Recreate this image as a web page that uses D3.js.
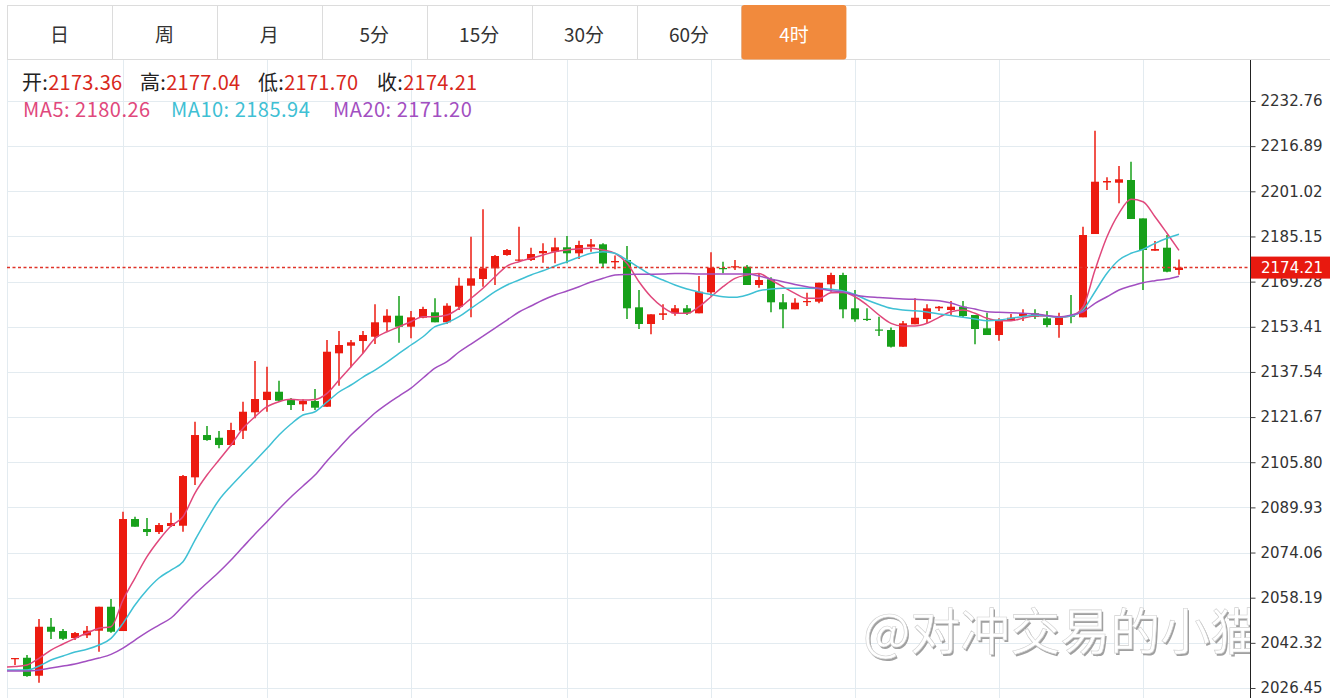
<!DOCTYPE html>
<html>
<head>
<meta charset="utf-8">
<script src="https://cdn.jsdelivr.net/npm/d3@7/dist/d3.min.js"></script>
<style>
body { margin: 0; background: #fff; }
</style>
</head>
<body>
<div id="display"></div>
<script>
// period tabs
const tabs = ['日', '周', '月', '5分', '15分', '30分', '60分', '4时'];
const activeTab = '4时';

// 4h bars (bar 1 .. bar 98)
const opens = [2036.6, 2037.08, 2030.76, 2047.98, 2046.47, 2044.01, 2044.96, 2046.58, 2055.01, 2046.47,
  2085.84, 2082.32, 2081.27, 2083.38, 2083.48, 2100.49, 2115.36, 2114.41, 2111.85, 2116.88,
  2123.34, 2127.66, 2130.58, 2127.66, 2126.15, 2127.31, 2125.31, 2144.08, 2146.75, 2148.40,
  2149.91, 2154.98, 2157.30, 2153.43, 2156.59, 2158.49, 2154.98, 2160.46, 2167.84, 2170.19,
  2173.96, 2178.63, 2176.70, 2176.87, 2179.23, 2179.79, 2181.34, 2179.23, 2181.55, 2182.39,
  2176.06, 2176.87, 2160.25, 2154.38, 2157.60, 2158.14, 2159.90, 2158.14, 2165.52, 2174.06,
  2174.34, 2174.52, 2168.09, 2170.09, 2162.01, 2159.54, 2162.11, 2162.22, 2168.33, 2171.60,
  2159.90, 2156.20, 2152.45, 2152.27, 2146.40, 2154.27, 2156.13, 2159.90, 2159.30, 2160.46,
  2157.54, 2152.87, 2150.51, 2155.43, 2157.19, 2158.14, 2156.38, 2154.03, 2157.36, 2156.73,
  2186.01, 2204.12, 2204.04, 2204.99, 2191.50, 2180.14, 2181.20, 2173.36];
const highs = [2036.98, 2038.03, 2050.69, 2051.04, 2047.17, 2046.12, 2048.23, 2055.01, 2057.72, 2088.40,
  2086.65, 2086.19, 2084.43, 2088.05, 2101.30, 2120.04, 2118.53, 2116.77, 2119.69, 2127.07,
  2141.37, 2139.37, 2134.45, 2128.37, 2127.91, 2131.53, 2148.75, 2151.92, 2148.75, 2151.92,
  2161.30, 2159.54, 2164.22, 2158.95, 2160.46, 2163.41, 2161.65, 2170.65, 2185.06, 2194.69,
  2178.63, 2180.74, 2188.58, 2181.20, 2182.74, 2184.71, 2185.31, 2183.66, 2184.25, 2182.74,
  2178.45, 2181.79, 2166.33, 2157.79, 2161.30, 2161.06, 2161.06, 2171.25, 2179.58, 2176.28,
  2176.87, 2175.12, 2172.20, 2170.79, 2164.92, 2163.41, 2165.38, 2168.89, 2172.41, 2172.41,
  2166.33, 2159.90, 2156.94, 2153.15, 2155.43, 2163.41, 2161.30, 2160.71, 2162.46, 2162.46,
  2157.54, 2158.35, 2156.38, 2157.89, 2159.54, 2159.54, 2158.95, 2158.35, 2164.57, 2188.58,
  2222.32, 2205.94, 2209.91, 2211.42, 2191.50, 2183.55, 2185.66, 2177.04];
const lows = [2034.52, 2030.41, 2028.30, 2043.66, 2043.31, 2043.31, 2044.01, 2039.19, 2045.87, 2046.47,
  2083.13, 2079.86, 2080.56, 2083.03, 2081.37, 2097.79, 2113.36, 2110.69, 2111.50, 2113.96,
  2121.23, 2123.55, 2127.07, 2124.15, 2123.79, 2124.15, 2125.31, 2132.69, 2139.16, 2144.08,
  2147.35, 2151.92, 2147.80, 2149.35, 2156.38, 2154.98, 2154.38, 2159.30, 2156.73, 2167.49,
  2168.09, 2178.39, 2176.52, 2176.52, 2175.92, 2175.71, 2175.71, 2177.22, 2179.79, 2174.06,
  2173.60, 2156.13, 2152.62, 2150.76, 2155.78, 2157.30, 2157.54, 2158.14, 2164.33, 2172.20,
  2173.36, 2168.09, 2167.14, 2158.49, 2152.87, 2159.54, 2160.71, 2161.65, 2165.73, 2156.38,
  2155.19, 2155.43, 2150.16, 2146.12, 2146.40, 2154.27, 2154.62, 2158.95, 2157.54, 2156.73,
  2147.24, 2150.51, 2148.51, 2155.43, 2155.43, 2156.13, 2153.22, 2149.56, 2154.62, 2156.73,
  2186.01, 2201.48, 2196.80, 2191.28, 2166.33, 2180.14, 2172.55, 2171.70];
const closes = [2036.98, 2030.65, 2047.98, 2046.22, 2043.76, 2045.77, 2046.58, 2055.01, 2046.22, 2085.84,
  2083.13, 2081.27, 2083.73, 2084.43, 2100.95, 2115.36, 2113.60, 2111.85, 2117.12, 2123.55,
  2128.02, 2130.58, 2127.41, 2125.91, 2127.31, 2124.96, 2144.64, 2147.00, 2147.95, 2150.51,
  2154.98, 2157.30, 2153.43, 2156.73, 2159.65, 2154.98, 2160.81, 2167.84, 2170.44, 2173.96,
  2178.28, 2180.39, 2177.05, 2178.98, 2180.04, 2181.34, 2179.23, 2182.15, 2182.39, 2175.64,
  2176.52, 2159.90, 2154.38, 2157.79, 2158.14, 2159.90, 2158.14, 2165.73, 2174.17, 2173.71,
  2174.69, 2168.09, 2169.84, 2162.01, 2159.54, 2161.87, 2162.46, 2168.89, 2171.60, 2159.54,
  2156.03, 2155.85, 2152.10, 2146.40, 2154.62, 2156.59, 2159.90, 2160.46, 2160.46, 2157.19,
  2152.62, 2150.51, 2155.43, 2156.59, 2158.14, 2156.94, 2154.03, 2156.94, 2157.01, 2185.66,
  2204.39, 2204.64, 2205.24, 2191.28, 2180.39, 2180.74, 2172.76, 2174.21];

// moving averages, bar 0 (just off the left edge) .. bar 98
const ma5 = [2033.82, 2033.99, 2034.52, 2036.88, 2039.79, 2041.90, 2043.90, 2045.77, 2047.42, 2047.98,
  2057.37, 2065.10, 2072.59, 2078.46, 2083.38, 2086.65, 2094.98, 2101.30, 2106.58, 2111.85,
  2117.72, 2121.79, 2125.31, 2127.07, 2127.91, 2127.66, 2127.84, 2130.02, 2134.69, 2139.37,
  2144.08, 2149.35, 2151.67, 2153.43, 2155.19, 2156.94, 2156.94, 2157.54, 2159.90, 2163.41,
  2166.93, 2171.00, 2174.76, 2176.28, 2177.47, 2178.63, 2179.79, 2180.39, 2180.84, 2180.99,
  2180.39, 2179.23, 2175.71, 2169.25, 2163.97, 2160.25, 2158.14, 2158.14, 2160.46, 2163.97,
  2167.49, 2170.44, 2171.60, 2172.13, 2169.84, 2167.49, 2165.17, 2163.41, 2163.41, 2165.38,
  2165.45, 2163.97, 2161.06, 2157.54, 2154.62, 2153.67, 2153.67, 2154.62, 2156.73, 2158.70,
  2159.30, 2158.14, 2156.38, 2155.54, 2155.54, 2156.38, 2157.19, 2157.19, 2156.73, 2157.19,
  2160.35, 2173.36, 2185.06, 2193.29, 2198.21, 2197.36, 2192.09, 2186.26, 2180.26];
const ma10 = [2032.76, 2032.76, 2032.76, 2034.17, 2036.28, 2037.68, 2039.09, 2040.04, 2041.55, 2043.90,
  2049.18, 2055.61, 2060.88, 2065.10, 2067.91, 2070.83, 2078.46, 2085.84, 2092.52, 2097.44,
  2101.90, 2106.22, 2110.69, 2115.36, 2119.23, 2122.39, 2123.55, 2126.96, 2130.48, 2132.94,
  2135.75, 2138.21, 2141.02, 2144.08, 2147.00, 2149.91, 2153.43, 2154.83, 2156.94, 2159.90,
  2162.81, 2165.73, 2168.09, 2169.84, 2171.60, 2173.11, 2174.76, 2176.28, 2177.82, 2179.23,
  2179.79, 2179.23, 2176.87, 2174.24, 2171.60, 2169.84, 2168.09, 2166.68, 2165.63, 2164.75,
  2163.97, 2163.76, 2164.57, 2166.08, 2166.68, 2166.93, 2166.93, 2166.93, 2166.86, 2166.58,
  2165.98, 2164.75, 2162.81, 2161.23, 2159.90, 2159.30, 2159.05, 2158.60, 2157.89, 2157.37,
  2156.73, 2156.14, 2155.54, 2155.78, 2156.38, 2157.01, 2157.54, 2157.19, 2156.84, 2157.19,
  2159.30, 2165.73, 2172.20, 2176.87, 2179.23, 2180.63, 2182.74, 2184.50, 2185.94];
const ma20 = [2032.41, 2032.41, 2032.41, 2032.76, 2033.47, 2034.17, 2034.87, 2035.93, 2036.98, 2038.28,
  2040.49, 2043.31, 2046.12, 2048.58, 2051.04, 2055.26, 2059.48, 2063.34, 2067.21, 2071.43,
  2076.00, 2080.56, 2084.89, 2089.35, 2093.57, 2097.44, 2101.30, 2106.22, 2110.79, 2115.36,
  2119.23, 2123.10, 2126.26, 2129.07, 2131.88, 2135.40, 2138.91, 2141.13, 2144.54, 2147.35,
  2150.16, 2152.97, 2155.78, 2158.60, 2160.71, 2162.81, 2164.57, 2165.98, 2167.49, 2169.14,
  2170.44, 2171.60, 2171.78, 2171.85, 2171.88, 2171.95, 2172.13, 2172.13, 2171.95, 2171.95,
  2171.95, 2171.95, 2171.95, 2171.25, 2170.19, 2169.25, 2168.26, 2167.49, 2166.86, 2166.08,
  2165.63, 2164.57, 2163.97, 2163.69, 2163.41, 2163.16, 2163.06, 2162.81, 2162.56, 2161.76,
  2160.46, 2159.65, 2158.70, 2158.49, 2158.35, 2158.14, 2157.89, 2157.37, 2156.94, 2157.54,
  2158.70, 2161.65, 2163.97, 2166.33, 2167.73, 2168.89, 2169.60, 2170.19, 2171.20];

// y axis tick values and the bars that carry a vertical grid line
const yTicks = [2026.45, 2042.32, 2058.19, 2074.06, 2089.93, 2105.80, 2121.67,
  2137.54, 2153.41, 2169.28, 2185.15, 2201.02, 2216.89, 2232.76];
const gridBars = [10, 22, 34, 47, 59, 71, 83, 95];

const watermark = '@对冲交易的小猫';

const W = 1330, H = 698;
const plotL = 7, plotR = 1250, plotT = 60, plotB = 698;
const upColor = '#ec1b10', downColor = '#17a01a';
const cjk = '"Noto Sans CJK SC", "Microsoft YaHei", sans-serif';
const numFont = '"DejaVu Sans", Verdana, sans-serif';

const svg = d3.select('#display')
  .append('svg')
  .attr('width', W)
  .attr('height', H)
  .style('display', 'block');

const x = d3.scaleLinear().domain([1, 98]).range([15, 1179]);
const y = d3.scaleLinear().domain([2026.45, 2232.76]).range([688, 101]);
const crisp = v => Math.round(v) + 0.5;
const fmt = d3.format('.2f');

// ---- tab bar ----
const tabW = (846.4 - plotL) / tabs.length;
const tabBar = svg.append('g');
tabBar.append('line')
  .attr('x1', plotL).attr('x2', W).attr('y1', 5.5).attr('y2', 5.5)
  .attr('stroke', '#dcdcdc');
tabBar.append('line')
  .attr('x1', plotL).attr('x2', W).attr('y1', 59.5).attr('y2', 59.5)
  .attr('stroke', '#dcdcdc');
tabs.forEach((t, i) => {
  const tx = plotL + i * tabW;
  tabBar.append('line')
    .attr('x1', crisp(tx)).attr('x2', crisp(tx)).attr('y1', 5.5).attr('y2', 59.5)
    .attr('stroke', '#dcdcdc');
  if (t === activeTab) {
    tabBar.append('rect')
      .attr('x', tx).attr('y', 5).attr('width', tabW).attr('height', 54.5)
      .attr('rx', 3)
      .attr('fill', '#f18a3d');
  }
  tabBar.append('text')
    .attr('x', tx + tabW / 2)
    .attr('y', 33)
    .attr('text-anchor', 'middle')
    .attr('dominant-baseline', 'central')
    .attr('font-family', cjk)
    .attr('font-size', '19px')
    .attr('fill', t === activeTab ? '#fff' : '#333')
    .text(t);
});

// ---- plot area ----
svg.append('clipPath').attr('id', 'plotclip')
  .append('rect')
  .attr('x', plotL).attr('y', plotT).attr('width', plotR - plotL).attr('height', plotB - plotT);

const grid = svg.append('g');
grid.selectAll('.hgrid').data(yTicks).enter().append('line')
  .attr('x1', plotL).attr('x2', plotR)
  .attr('y1', d => crisp(y(d))).attr('y2', d => crisp(y(d)))
  .attr('stroke', '#e3ebf0');
grid.selectAll('.vgrid').data(gridBars).enter().append('line')
  .attr('x1', d => crisp(x(d))).attr('x2', d => crisp(x(d)))
  .attr('y1', plotT).attr('y2', plotB)
  .attr('stroke', '#e3ebf0');
grid.append('line')
  .attr('x1', plotL + 0.5).attr('x2', plotL + 0.5).attr('y1', plotT).attr('y2', plotB)
  .attr('stroke', '#e3ebf0');

const plot = svg.append('g').attr('clip-path', 'url(#plotclip)');

// watermark
const wm = plot.append('g').attr('font-family', cjk).attr('font-size', '50px');
wm.append('text').attr('x', 864.5).attr('y', 651.5).attr('fill', '#a0a0a0').text(watermark);
wm.append('text').attr('x', 863).attr('y', 650).attr('fill', '#fff')
  .attr('stroke', '#d0d0d0').attr('stroke-width', 0.6).text(watermark);

// candles
const bars = d3.range(opens.length).map(i => ({
  i: i + 1, o: opens[i], h: highs[i], l: lows[i], c: closes[i]
}));
const candle = plot.selectAll('.candle').data(bars).enter().append('g');
candle.append('line')
  .attr('x1', d => Math.round(x(d.i))).attr('x2', d => Math.round(x(d.i)))
  .attr('y1', d => y(d.h)).attr('y2', d => y(d.l))
  .attr('stroke', d => d.c >= d.o ? upColor : downColor)
  .attr('stroke-width', 1.5);
candle.append('rect')
  .attr('x', d => Math.round(x(d.i)) - 4)
  .attr('width', 8)
  .attr('y', d => y(Math.max(d.o, d.c)))
  .attr('height', d => Math.max(1.2, Math.abs(y(d.o) - y(d.c))))
  .attr('fill', d => d.c >= d.o ? upColor : downColor);

// moving averages
const maSeries = [
  { name: 'MA5', values: ma5, color: '#e0487c' },
  { name: 'MA10', values: ma10, color: '#3fc0d4' },
  { name: 'MA20', values: ma20, color: '#a24fc1' }
];
const line = d3.line().x((d, j) => x(j)).y(d => y(d)).curve(d3.curveMonotoneX);
maSeries.forEach(s => {
  plot.append('path')
    .attr('d', line(s.values))
    .attr('fill', 'none')
    .attr('stroke', s.color)
    .attr('stroke-width', 1.5);
});

// last price line
const lastClose = closes[closes.length - 1];
plot.append('line')
  .attr('x1', plotL).attr('x2', plotR)
  .attr('y1', y(lastClose)).attr('y2', y(lastClose))
  .attr('stroke', '#e0342a')
  .attr('stroke-width', 1.5)
  .attr('stroke-dasharray', '3,2.5');

// ---- y axis on the right ----
const axis = svg.append('g').attr('transform', `translate(${plotR + 0.5},0)`);
axis.call(d3.axisRight(y).tickValues(yTicks).tickSize(5).tickPadding(5).tickFormat(fmt));
axis.select('.domain').attr('d', `M0,${plotT}V${plotB}`).attr('stroke', '#222');
axis.selectAll('.tick line').attr('stroke', '#444');
axis.selectAll('.tick text')
  .attr('font-family', numFont)
  .attr('font-size', '15px')
  .attr('fill', '#333');

// price tag, drawn over the axis label it sits on
const tag = svg.append('g').attr('transform', `translate(${plotR + 1},${y(lastClose)})`);
tag.append('rect')
  .attr('x', 0).attr('y', -11).attr('width', W - plotR).attr('height', 22)
  .attr('fill', '#e8190f');
tag.append('text')
  .attr('x', 10).attr('y', 0)
  .attr('dominant-baseline', 'central')
  .attr('font-family', numFont)
  .attr('font-size', '15px')
  .attr('fill', '#fff')
  .text(fmt(lastClose));

// ---- legend ----
const n = opens.length - 1;
const ohlcLegend = [
  { label: '开:', value: opens[n], x: 22 },
  { label: '高:', value: highs[n], x: 140 },
  { label: '低:', value: lows[n], x: 258 },
  { label: '收:', value: closes[n], x: 377 }
];
ohlcLegend.forEach(d => {
  const t = svg.append('text')
    .attr('x', d.x).attr('y', 90)
    .attr('font-family', cjk)
    .attr('font-size', '20px')
    .attr('letter-spacing', '0.3px');
  t.append('tspan').attr('fill', '#222').text(d.label);
  t.append('tspan').attr('fill', '#d8281c').text(fmt(d.value));
});
const maX = [23, 171, 333];
maSeries.forEach((s, k) => {
  svg.append('text')
    .attr('x', maX[k]).attr('y', 117)
    .attr('font-family', cjk)
    .attr('font-size', '20px')
    .attr('letter-spacing', '0.5px')
    .attr('fill', s.color)
    .text(`${s.name}: ${fmt(s.values[s.values.length - 1])}`);
});
</script>
</body>
</html>
